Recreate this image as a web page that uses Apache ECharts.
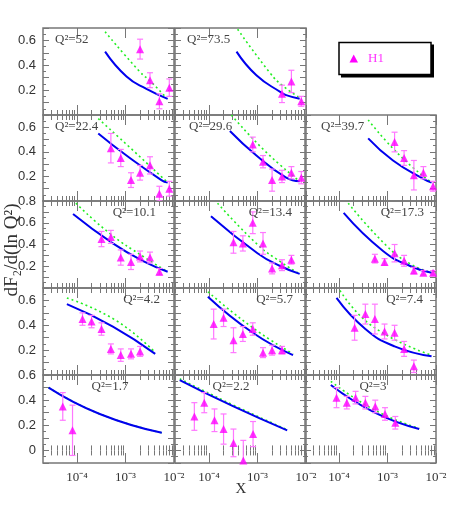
<!DOCTYPE html>
<html>
<head>
<meta charset="utf-8">
<script src="https://cdn.jsdelivr.net/npm/echarts@6/dist/echarts.min.js"></script>
<style>html,body{margin:0;padding:0;background:#fff}#main{width:463px;height:518px}</style>
</head>
<body>
<div id="main"></div>
<script>
// curves: [x, value]; H1 points: [x, value, error]
var blue52 = [[3.8e-4,0.51],[1.05e-3,0.31],[2.7e-3,0.21],[7.4e-3,0.13]];
var green52 = [[3.8e-4,0.67],[1.95e-3,0.35],[3.3e-3,0.27],[6.9e-3,0.14]];
var h1_52 = [[2e-3,0.53,0.08],[3.2e-3,0.28,0.06],[5e-3,0.11,0.06],[8e-3,0.22,0.07]];

var blue73 = [[3.7e-4,0.51],[9.5e-4,0.32],[3.1e-3,0.18],[3.9e-3,0.16],[7.4e-3,0.13]];
var green73 = [[3.9e-4,0.69],[1.8e-3,0.34],[3.2e-3,0.24],[7.4e-3,0.14]];
var h1_73 = [[3.2e-3,0.17,0.07],[5e-3,0.27,0.09],[8e-3,0.11,0.04]];

var blue22 = [[2.75e-4,0.55],[1.05e-3,0.37],[5.5e-3,0.17],[7.4e-3,0.15]];
var green22 = [[2.75e-4,0.67],[1.45e-3,0.41],[7.4e-3,0.15]];
var h1_22 = [[5e-4,0.43,0.12],[8e-4,0.35,0.07],[1.3e-3,0.17,0.06],[2e-3,0.23,0.06],[3.2e-3,0.29,0.07],[5e-3,0.06,0.06],[8e-3,0.10,0.06]];

var blue29 = [[2.7e-4,0.57],[9.5e-4,0.37],[3.9e-3,0.19],[7.4e-3,0.16]];
var green29 = [[2.9e-4,0.70],[1.4e-3,0.41],[7.4e-3,0.16]];
var h1_29 = [[8e-4,0.46,0.06],[1.3e-3,0.32,0.05],[2e-3,0.17,0.09],[3.2e-3,0.20,0.05],[5e-3,0.23,0.05],[8e-3,0.19,0.05]];

var blue39 = [[4e-4,0.51],[1.3e-3,0.33],[5.5e-3,0.18],[8.1e-3,0.15]];
var green39 = [[4e-4,0.66],[1.8e-3,0.37],[8.1e-3,0.15]];
var h1_39 = [[1.4e-3,0.48,0.08],[2.2e-3,0.35,0.06],[3.5e-3,0.21,0.12],[5.5e-3,0.23,0.05],[8.7e-3,0.12,0.04]];

var blue10 = [[8.3e-5,0.68],[5.5e-4,0.41],[2.5e-3,0.24],[7.4e-3,0.15]];
var green10 = [[9.5e-5,0.78],[4.8e-4,0.50],[2.5e-3,0.28],[7.4e-3,0.15]];
var h1_10 = [[3.2e-4,0.45,0.07],[5e-4,0.47,0.06],[8e-4,0.28,0.07],[1.3e-3,0.24,0.07],[2e-3,0.29,0.05],[3.2e-3,0.28,0.05],[5e-3,0.15,0.03]];

var blue13 = [[1.1e-4,0.66],[1e-3,0.32],[3e-3,0.2],[7.4e-3,0.13]];
var green13 = [[1.5e-4,0.78],[1e-3,0.40],[3e-3,0.24],[7.4e-3,0.13]];
var h1_13 = [[3.2e-4,0.42,0.1],[5e-4,0.41,0.07],[8e-4,0.60,0.1],[1.3e-3,0.41,0.1],[2e-3,0.18,0.05],[3.2e-3,0.21,0.05],[5e-3,0.26,0.04]];

var blue17 = [[1.25e-4,0.69],[8.1e-4,0.34],[3e-3,0.2],[8.1e-3,0.14]];
var green17 = [[1.55e-4,0.78],[1e-3,0.38],[3e-3,0.22],[8.1e-3,0.14]];
var h1_17 = [[5.5e-4,0.27,0.04],[8.7e-4,0.24,0.03],[1.4e-3,0.32,0.08],[2.2e-3,0.25,0.05],[3.5e-3,0.16,0.03],[5.5e-3,0.14,0.02],[8.7e-3,0.14,0.02]];

var blue4 = [[6.2e-5,0.57],[5.5e-4,0.39],[4.1e-3,0.17]];
var green4 = [[6.2e-5,0.62],[6.3e-4,0.44],[4.1e-3,0.18]];
var h1_4 = [[1.3e-4,0.45,0.05],[2e-4,0.43,0.05],[3.2e-4,0.37,0.05],[5e-4,0.21,0.04],[8e-4,0.16,0.05],[1.3e-3,0.17,0.04],[2e-3,0.19,0.04]];

var blue5 = [[9.5e-5,0.63],[8e-4,0.34],[5.4e-3,0.16]];
var green5 = [[9.5e-5,0.67],[8e-4,0.38],[5.4e-3,0.17]];
var h1_5 = [[1.25e-4,0.41,0.12],[2e-4,0.46,0.07],[3.2e-4,0.28,0.10],[5e-4,0.33,0.06],[8e-4,0.37,0.05],[1.3e-3,0.18,0.04],[2e-3,0.20,0.04],[3.2e-3,0.20,0.03]];

var blue7 = [[8.9e-5,0.62],[3.5e-4,0.37],[1.4e-3,0.23],[8.1e-3,0.15]];
var green7 = [[1.05e-4,0.68],[5e-4,0.39],[8.1e-3,0.16]];
var h1_7 = [[2.1e-4,0.38,0.10],[3.5e-4,0.49,0.08],[5.5e-4,0.45,0.12],[8.7e-4,0.35,0.06],[1.4e-3,0.34,0.06],[2.2e-3,0.21,0.06],[3.5e-3,0.07,0.05]];

var blue1 = [[2.6e-5,0.50],[2.95e-4,0.29],[5.6e-3,0.14]];
var green1 = [[2.6e-5,0.50],[2.95e-4,0.29],[5.6e-3,0.14]];
var h1_1 = [[5.1e-5,0.35,0.11],[8.1e-5,0.16,0.2]];

var blue2 = [[2.5e-5,0.56],[3.2e-4,0.35],[4.1e-3,0.16]];
var green2 = [[2.5e-5,0.57],[3.2e-4,0.36],[4.1e-3,0.165]];
var h1_2 = [[5e-5,0.27,0.11],[8e-5,0.38,0.08],[1.3e-4,0.24,0.09],[2e-4,0.17,0.12],[3.2e-4,0.06,0.11],[5.1e-4,-0.08,0.16],[8.1e-4,0.13,0.1]];

var blue3 = [[6.8e-5,0.52],[5.5e-4,0.30],[4.5e-3,0.17]];
var green3 = [[6.8e-5,0.55],[5.5e-4,0.32],[4.5e-3,0.175]];
var h1_3 = [[8.9e-5,0.42,0.08],[1.45e-4,0.38,0.05],[2.2e-4,0.42,0.05],[3.5e-4,0.38,0.05],[5.6e-4,0.35,0.05],[8.9e-4,0.29,0.05],[1.45e-3,0.22,0.05]];

var rowRanges = [[0,0.7],[0,0.7],[0,0.8],[0,0.7],[-0.1,0.6]];
var xTickLabels = [-4, -3, -2];

// label: [text, x offset, align]
var panels = [
  {row:0,col:0,q:['Q²=52',12,'left'],blue:blue52,green:green52,pts:h1_52},
  {row:0,col:1,q:['Q²=73.5',12,'left'],blue:blue73,green:green73,pts:h1_73},
  {row:1,col:0,q:['Q²=22.4',12,'left'],blue:blue22,green:green22,pts:h1_22},
  {row:1,col:1,q:['Q²=29.6',14,'left'],blue:blue29,green:green29,pts:h1_29},
  {row:1,col:2,q:['Q²=39.7',16,'left'],blue:blue39,green:green39,pts:h1_39},
  {row:2,col:0,q:['Q²=10.1',113,'right'],blue:blue10,green:green10,pts:h1_10},
  {row:2,col:1,q:['Q²=13.4',117,'right'],blue:blue13,green:green13,pts:h1_13},
  {row:2,col:2,q:['Q²=17.3',119,'right'],blue:blue17,green:green17,pts:h1_17},
  {row:3,col:0,q:['Q²=4.2',117,'right'],blue:blue4,green:green4,pts:h1_4},
  {row:3,col:1,q:['Q²=5.7',118,'right'],blue:blue5,green:green5,pts:h1_5},
  {row:3,col:2,q:['Q²=7.4',118,'right'],blue:blue7,green:green7,pts:h1_7},
  {row:4,col:0,q:['Q²=1.7',67,'center'],blue:blue1,green:green1,pts:h1_1},
  {row:4,col:1,q:['Q²=2.2',56,'center'],blue:blue2,green:green2,pts:h1_2},
  {row:4,col:2,q:['Q²=3',68,'center'],blue:blue3,green:green3,pts:h1_3}
];

var colLeft = [43, 175, 305];
var rowTop = [28, 115, 201, 288, 375, 463];
var W = 131;
var XMIN = -4.7, XMAX = -2;

var minorX = [], majorX = [-4, -3, -2];
for (var n = -5; n <= -3; n++) {
  for (var k = 2; k <= 9; k++) {
    var v = Math.log10(k) + n;
    if (v >= XMIN && v <= XMAX) minorX.push(v);
  }
}

var sup = {'-':'⁻','2':'²','3':'³','4':'⁴'};
function powLabel(v) {
  return '10' + String(v).split('').map(function (c) { return sup[c]; }).join('');
}
function lg(arr) { return arr.map(function (d) { return [Math.log10(d[0])].concat(d.slice(1)); }); }

var grids = [], xAxes = [], yAxes = [], series = [], graphics = [];
var axisCol = '#777';

function xAxisDef(i, pos, ticks, len) {
  return {type: 'value', gridIndex: i, min: XMIN, max: XMAX, position: pos,
    axisLine: {show: false}, splitLine: {show: false},
    axisTick: {show: true, inside: true, length: len, lineStyle: {color: axisCol, width: 1}, customValues: ticks},
    axisLabel: {show: false}};
}

panels.forEach(function (p, i) {
  var top = rowTop[p.row], h = rowTop[p.row + 1] - top;
  var rng = rowRanges[p.row];
  var bottomRow = p.row === 4;
  grids.push({left: colLeft[p.col], top: top, width: W, height: h, show: true,
    borderColor: axisCol, borderWidth: 1.5, backgroundColor: 'transparent'});
  var xa = xAxisDef(i, 'bottom', minorX, 5);
  var xb = xAxisDef(i, 'top', minorX, 5);
  var xc = xAxisDef(i, 'bottom', majorX, 10);
  var xd = xAxisDef(i, 'top', majorX, 10);
  if (bottomRow) {
    xc.axisLabel = {show: true, customValues: xTickLabels, formatter: powLabel,
      fontFamily: 'Liberation Serif', fontSize: 13, color: '#333', margin: 8};
  }
  var base = xAxes.length;
  xAxes.push(xa, xb, xc, xd);
  var ya = {type: 'value', gridIndex: i, min: rng[0], max: rng[1], interval: 0.1,
    axisLine: {show: false}, splitLine: {show: false},
    axisTick: {inside: true, length: 6, lineStyle: {color: axisCol}},
    minorTick: {show: true, splitNumber: 2, length: 3, lineStyle: {color: axisCol}},
    axisLabel: {show: p.col === 0, fontFamily: 'Liberation Sans', fontSize: 13, color: '#333', margin: 7,
      showMinLabel: true, showMaxLabel: true,
      formatter: function (v) {
        var t = Math.round(v * 10);
        if (t % 2 !== 0 || t < 0) return '';
        if (t === 0 && !bottomRow) return '';
        return t === 0 ? '0' : (t / 10).toFixed(1);
      }}};
  var yb = JSON.parse(JSON.stringify(ya));
  yb.position = 'right';
  yb.axisLabel = {show: false};
  var ybase = yAxes.length;
  yAxes.push(ya, yb);

  var ax = {xAxisIndex: base, yAxisIndex: ybase};
  series.push(Object.assign({type: 'line', data: lg(p.green),
    smooth: 0.5, showSymbol: false, clip: true,
    lineStyle: {color: '#22ee22', width: 1.6, type: [2, 3]}, z: 2}, ax));
  series.push(Object.assign({type: 'line', data: lg(p.blue),
    smooth: 0.5, showSymbol: false, clip: true,
    lineStyle: {color: '#0000ee', width: 2}, z: 3}, ax));
  series.push(Object.assign({type: 'custom', data: lg(p.pts), clip: true, z: 4,
    renderItem: function (params, api) {
      var x = api.value(0), y = api.value(1), e = api.value(2);
      var a = api.coord([x, y + e]), b = api.coord([x, y - e]);
      var st = {stroke: '#ff77ff', lineWidth: 1.2};
      return {type: 'group', children: [
        {type: 'line', shape: {x1: a[0], y1: a[1], x2: b[0], y2: b[1]}, style: st},
        {type: 'line', shape: {x1: a[0] - 3, y1: a[1], x2: a[0] + 3, y2: a[1]}, style: st},
        {type: 'line', shape: {x1: b[0] - 3, y1: b[1], x2: b[0] + 3, y2: b[1]}, style: st}
      ]};
    }}, ax));
  series.push(Object.assign({type: 'scatter', data: lg(p.pts).map(function (d) { return [d[0], d[1]]; }),
    symbol: 'triangle', symbolSize: 8, itemStyle: {color: '#ff00ff'}, z: 5}, ax));

  graphics.push({type: 'text', x: colLeft[p.col] + p.q[1], y: top + 5,
    style: {text: p.q[0], fill: '#444', font: '13px "Liberation Serif"', textAlign: p.q[2]}, z: 10});
});

// legend box
graphics.push({type: 'rect', shape: {x: 341, y: 44.5, width: 93, height: 33}, style: {fill: '#000'}});
graphics.push({type: 'rect', shape: {x: 339, y: 42.5, width: 92, height: 32}, style: {fill: '#fff', stroke: '#000', lineWidth: 1.5}});
graphics.push({type: 'polygon', shape: {points: [[353.7, 54.5], [349.5, 62.5], [358, 62.5]]}, style: {fill: '#ff00ff'}});
graphics.push({type: 'text', x: 368, y: 52, style: {text: 'H1', fill: '#ff33ff', font: '13px "Liberation Serif"'}});

// axis titles
graphics.push({type: 'text', x: 12, y: 250, rotation: Math.PI / 2,
  style: {text: 'dF₂/d(ln Q²)', fill: '#333', font: '19px "Liberation Serif"', textAlign: 'center', textVerticalAlign: 'middle'}});
graphics.push({type: 'text', x: 241, y: 489,
  style: {text: 'X', fill: '#333', font: '15px "Liberation Serif"', textAlign: 'center', textVerticalAlign: 'middle'}});

var chart = echarts.init(document.getElementById('main'));
chart.setOption({
  animation: false,
  grid: grids,
  xAxis: xAxes,
  yAxis: yAxes,
  series: series,
  graphic: graphics
});
</script>
</body>
</html>
